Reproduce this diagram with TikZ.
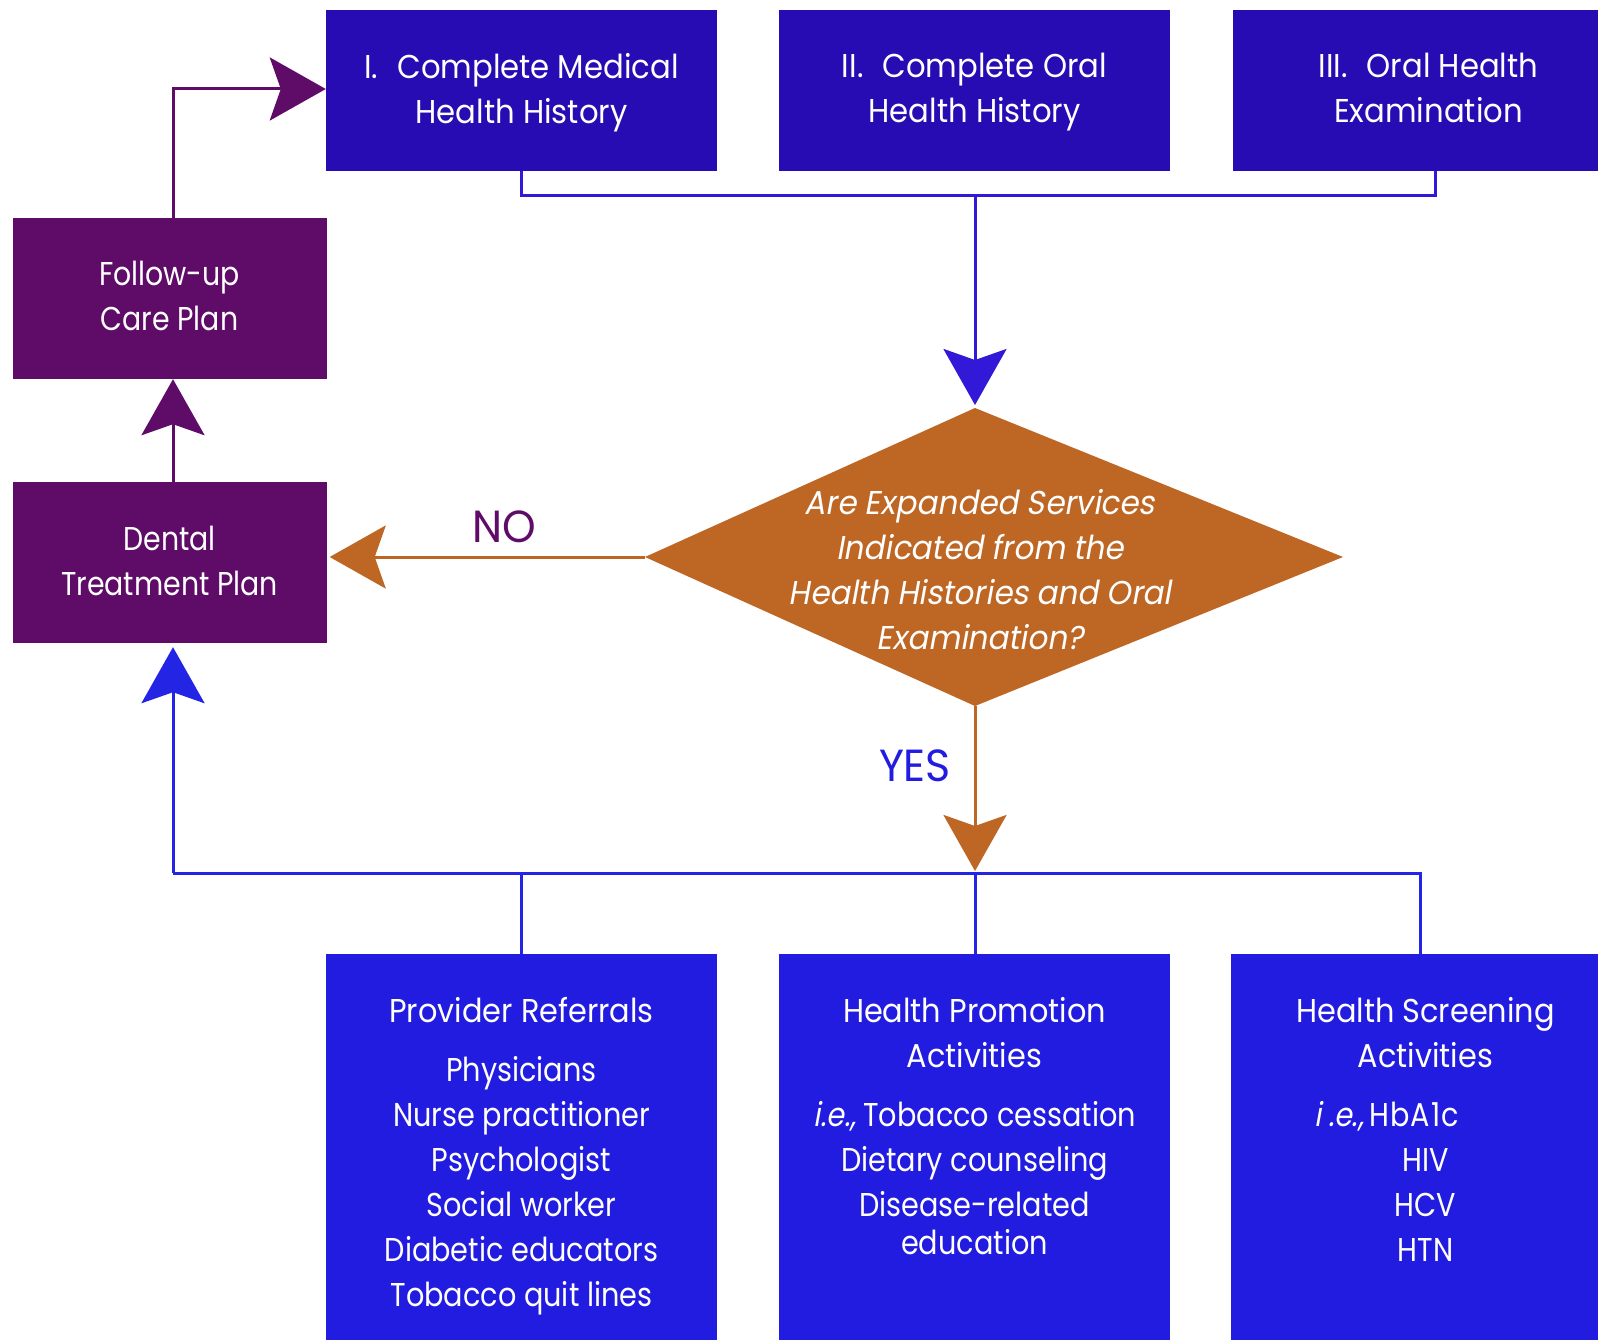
\documentclass[tikz,border=0pt]{standalone}
\usepackage{fontspec}
\setmainfont[FakeStretch=0.87]{Poppins}
\newfontfamily\topfont[FakeStretch=0.93]{Poppins}
\newfontfamily\plumfont[FakeStretch=0.86]{Poppins}
\newfontfamily\titlefont[FakeStretch=0.92]{Poppins}
\newfontfamily\bodyfont[FakeStretch=0.87]{Poppins}
\newfontfamily\slfont[FakeStretch=0.94,FakeSlant=0.18]{Poppins}
\newfontfamily\slbody[FakeStretch=0.87,FakeSlant=0.18]{Poppins}
\newfontfamily\lblfont[FakeStretch=0.95]{Poppins}
\usetikzlibrary{arrows.meta}
\definecolor{topblue}{RGB}{38,12,178}
\definecolor{lowblue}{RGB}{34,28,224}
\definecolor{plum}{RGB}{94,12,104}
\definecolor{rust}{RGB}{190,102,36}
\definecolor{linkblue}{RGB}{50,25,215}
\definecolor{lowlink}{RGB}{36,36,228}
\newcommand{\numgap}{\hspace{19pt}}
\begin{document}
\begin{tikzpicture}[x=1pt,y=-1pt,
  boxtext/.style={text=white, align=center, inner sep=0pt, font=\fontsize{33}{45}\selectfont},
  toptext/.style={boxtext, font=\topfont\fontsize{33}{45}\selectfont},
  plumtext/.style={boxtext, font=\plumfont\fontsize{33}{45}\selectfont},
  lowtext/.style={boxtext, anchor=north, font=\bodyfont\fontsize{33}{45}\selectfont},
  topbox/.style={rectangle, inner sep=0pt, fill=topblue, minimum width=391pt, minimum height=161pt},
  plumbox/.style={rectangle, inner sep=0pt, fill=plum, minimum width=314pt, minimum height=161pt},
  lowbox/.style={rectangle, fill=lowblue, minimum width=391pt, minimum height=420pt, inner sep=0pt},
  link/.style={line width=3pt},
  arr/.style={link, -{Stealth[length=56pt,width=63pt,inset=11pt]}},
  lbl/.style={font=\lblfont\fontsize{45}{50}\selectfont, inner sep=0pt}
]
\useasboundingbox (0,0) rectangle (1598,1340);
\clip (0,0) rectangle (1598,1340);
\fill[white] (0,0) rectangle (1598,1340);

% top boxes
\node[topbox] (med) at (521.5,90.5) {};
\node[topbox] (oral) at (974.5,90.5) {};
\node[topbox] (exam) at (1428.5,90.5) {};
\node[toptext] (medt) at (521.5,92.5) {I.\numgap Complete Medical\\Health History};
\node[toptext] (oralt) at (974.5,92.5) {II.\numgap Complete Oral\\Health History};
\node[toptext] (examt) at (1428.5,92.5) {III.\numgap Oral Health\\Examination\vphantom{y}};

% left boxes
\node[plumbox] (fup) at (169.5,298.5) {};
\node[plumbox] (dtp) at (169.5,562.5) {};
\node[plumtext] (fupt) at (169.5,300) {Follow-up\\Care Plan\vphantom{y}};
\node[plumtext] (dtpt) at (169.5,565) {Dental\\Treatment Plan\vphantom{y}};

% decision diamond
\fill[rust] (975,408) coordinate (dT) -- (1343,557) coordinate (dR)
  -- (975,706) coordinate (dB) -- (645,557) coordinate (dL) -- cycle;
\node[text=white, align=center, inner sep=0pt,
      font=\slfont\fontsize{33}{45}\selectfont] (dq) at (980,570)
  {Are Expanded Services\\Indicated from the\\Health Histories and Oral\\Examination?};

% bottom boxes
\node[lowbox, anchor=north] (prov) at (521.5,954) {};
\node[lowbox, anchor=north] (prom) at (974.5,954) {};
\node[lowbox, anchor=north] (scr) at (1426.5,954) {};

\node[lowtext] (provt) at (521.5,997)
  {{\titlefont Provider Referrals}\\[14pt]Physicians\\Nurse practitioner\\Psychologist\\Social worker\\Diabetic educators\\Tobacco quit lines};
\node[lowtext] (promt) at (974.5,997)
  {{\titlefont Health Promotion}\\{\titlefont Activities}\\[14pt]{\slbody i.e.,} Tobacco cessation\\Dietary counseling\\Disease-related\\[-7pt]education};
\node[lowtext] (scrt) at (1425.5,997)
  {{\titlefont Health Screening}\\{\titlefont Activities}\\[14pt]{\slbody i\hspace{7pt}.e.,}\hspace{6pt}{\addfontfeature{LetterSpace=3}HbA1c}\rule{78pt}{0pt}\\HIV\\HCV\\HTN};

% connectors: top merge
\coordinate (tm) at (975,196);
\draw[link, linkblue] (med.south) |- (tm) -| (1435,171);
\draw[arr, linkblue, shorten >=3pt] (tm) -- (dT);

% NO
\draw[arr, rust, shorten >=3pt] (dL) -- (dL -| dtp.east);
\node[lbl, text=plum] (no) at (504,527) {NO};

% YES
\coordinate (bm) at (975,873);
\draw[arr, rust, shorten >=2pt] (dB) -- (bm);
\node[lbl, text=lowblue] (yes) at (915,766) {YES};

% bottom merge
\coordinate (bl) at (173,873);
\coordinate (br) at (1420,873);
\draw[link, lowlink] (bl) -- (br) -- (br |- scr.north);
\draw[link, lowlink] (bm) -- (bm |- prom.north);
\draw[link, lowlink] (prov.north |- bm) -- (prov.north);
\draw[arr, lowlink, shorten >=4pt] (bl) -- (bl |- dtp.south);

% plan loop
\draw[arr, plum] (bl |- dtp.north) -- (bl |- fup.south);
\coordinate (tl) at (173,89);
\draw[arr, plum] (bl |- fup.north) -- (tl) -- (tl -| med.west);
\end{tikzpicture}
\end{document}
